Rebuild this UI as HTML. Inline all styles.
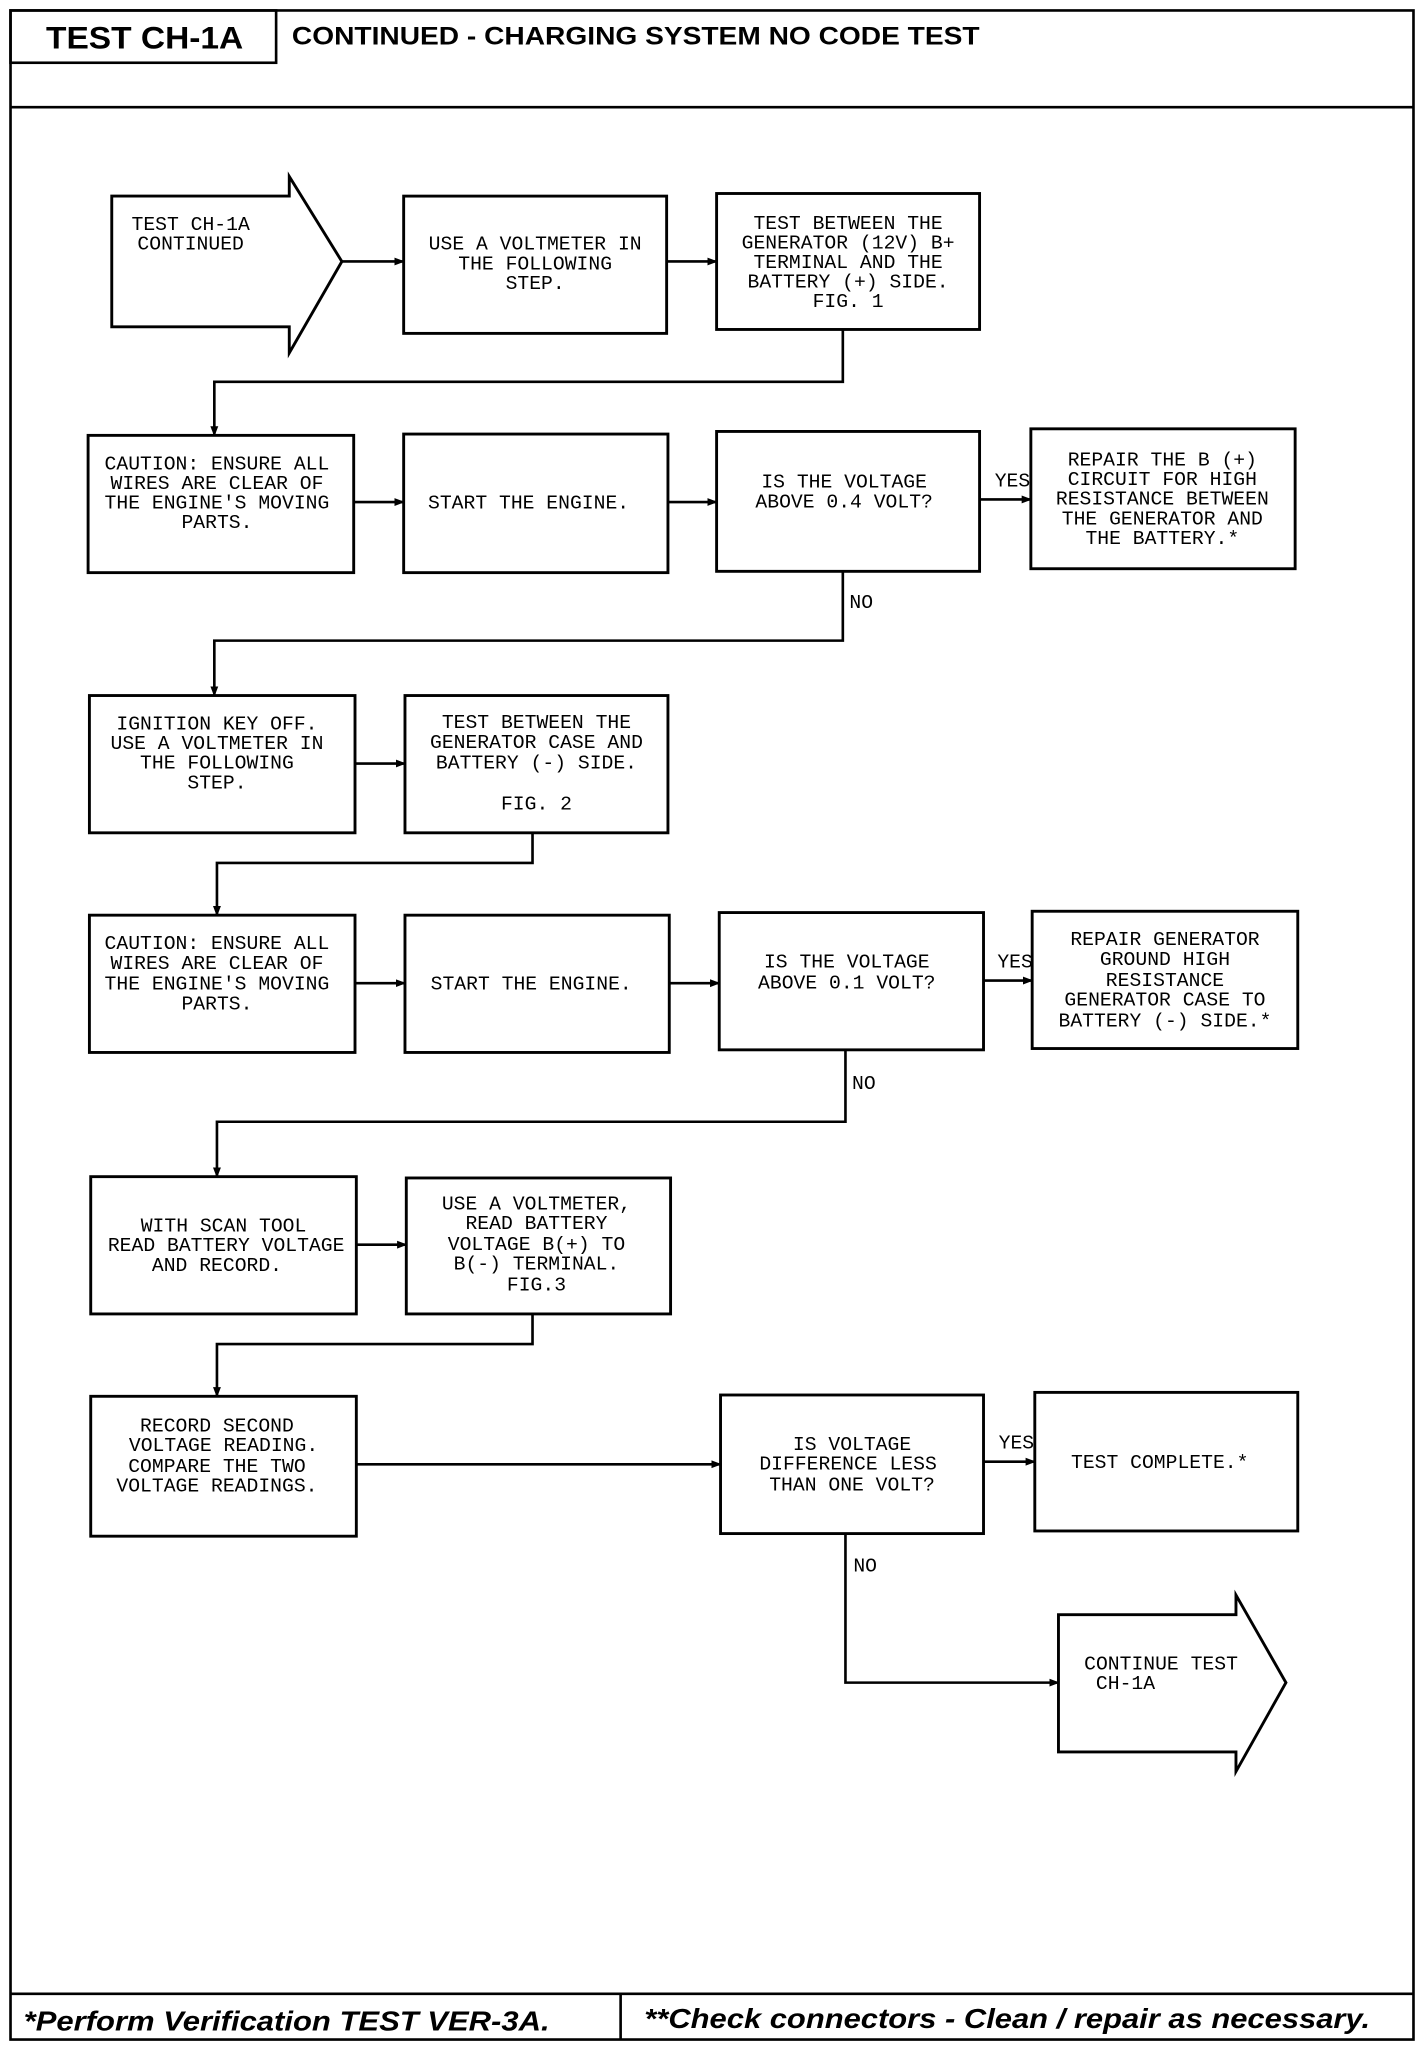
<!DOCTYPE html>
<html><head><meta charset="utf-8"><style>
html,body{margin:0;padding:0;background:#fff}
svg{display:block}
.t{font-family:"Liberation Mono",monospace;font-size:15px;fill:#000;text-anchor:middle}
.b{fill:#fff;stroke:#000;stroke-width:2.2}
.l{fill:none;stroke:#000;stroke-width:2}
</style></head><body>
<svg width="1424" height="2050" viewBox="0 0 1083 1568" preserveAspectRatio="none" xmlns="http://www.w3.org/2000/svg">
<defs><marker id="a" markerWidth="8" markerHeight="8" refX="7" refY="4" orient="auto" markerUnits="userSpaceOnUse"><path d="M0,1 L8,4 L0,7z" fill="#000"/></marker></defs>
<rect x="8" y="8" width="1067" height="1552" class="l" stroke-width="2.5"/>
<line x1="8" y1="82" x2="1075" y2="82" class="l" stroke-width="3"/>
<rect x="8" y="8" width="202" height="40" class="l" stroke-width="2.5"/>
<text x="35" y="37" textLength="150" lengthAdjust="spacingAndGlyphs" style="font-family:'Liberation Sans',sans-serif;font-weight:bold;font-size:24px">TEST CH-1A</text>
<text x="222" y="34" textLength="523" lengthAdjust="spacingAndGlyphs" style="font-family:'Liberation Sans',sans-serif;font-weight:bold;font-size:19px">CONTINUED - CHARGING SYSTEM NO CODE TEST</text>
<line x1="8" y1="1525" x2="1075" y2="1525" class="l" stroke-width="3"/>
<line x1="472" y1="1525" x2="472" y2="1560" class="l"/>
<text x="18" y="1553" textLength="400" lengthAdjust="spacingAndGlyphs" style="font-family:'Liberation Sans',sans-serif;font-weight:bold;font-style:italic;font-size:21px">*Perform Verification TEST VER-3A.</text>
<text x="490" y="1551" textLength="552" lengthAdjust="spacingAndGlyphs" style="font-family:'Liberation Sans',sans-serif;font-weight:bold;font-style:italic;font-size:21px">**Check connectors - Clean / repair as necessary.</text>

<!-- row1 -->
<path d="M85,150 H220 V135 L260,200 L220,270 V250 H85Z" class="b"/>
<text class="t" x="145" y="176">TEST CH-1A</text><text class="t" x="145" y="191">CONTINUED</text>
<rect x="307" y="150" width="200" height="105" class="b"/>
<text class="t" x="407" y="191">USE A VOLTMETER IN</text><text class="t" x="407" y="206">THE FOLLOWING</text><text class="t" x="407" y="221">STEP.</text>
<rect x="545" y="148" width="200" height="104" class="b"/>
<text class="t" x="645" y="175">TEST BETWEEN THE</text><text class="t" x="645" y="190">GENERATOR (12V) B+</text><text class="t" x="645" y="205">TERMINAL AND THE</text><text class="t" x="645" y="220">BATTERY (+) SIDE.</text><text class="t" x="645" y="235">FIG. 1</text>
<line x1="260" y1="200" x2="307" y2="200" class="l" marker-end="url(#a)"/>
<line x1="507" y1="200" x2="545" y2="200" class="l" stroke-width="3" marker-end="url(#a)"/>
<path d="M641,252 V292 H163 V333" class="l" marker-end="url(#a)"/>

<!-- row2 -->
<rect x="67" y="333" width="202" height="105" class="b"/>
<text class="t" x="165" y="359">CAUTION: ENSURE ALL</text><text class="t" x="165" y="374">WIRES ARE CLEAR OF</text><text class="t" x="165" y="389">THE ENGINE'S MOVING</text><text class="t" x="165" y="404">PARTS.</text>
<rect x="307" y="332" width="201" height="106" class="b"/>
<text class="t" x="402" y="389">START THE ENGINE.</text>
<rect x="545" y="330" width="200" height="107" class="b"/>
<text class="t" x="642" y="373">IS THE VOLTAGE</text><text class="t" x="642" y="388">ABOVE 0.4 VOLT?</text>
<rect x="784" y="328" width="201" height="107" class="b"/>
<text class="t" x="884" y="356">REPAIR THE B (+)</text><text class="t" x="884" y="371">CIRCUIT FOR HIGH</text><text class="t" x="884" y="386">RESISTANCE BETWEEN</text><text class="t" x="884" y="401">THE GENERATOR AND</text><text class="t" x="884" y="416">THE BATTERY.*</text>
<line x1="269" y1="384" x2="307" y2="384" class="l" marker-end="url(#a)"/>
<line x1="508" y1="384" x2="545" y2="384" class="l" marker-end="url(#a)"/>
<line x1="745" y1="382" x2="784" y2="382" class="l" marker-end="url(#a)"/>
<text class="t" x="770" y="372">YES</text>
<text class="t" x="655" y="465">NO</text>
<path d="M641,437 V490 H163 V532" class="l" marker-end="url(#a)"/>

<!-- row3 -->
<rect x="68" y="532" width="202" height="105" class="b"/>
<text class="t" x="165" y="558">IGNITION KEY OFF.</text><text class="t" x="165" y="573">USE A VOLTMETER IN</text><text class="t" x="165" y="588">THE FOLLOWING</text><text class="t" x="165" y="603">STEP.</text>
<rect x="308" y="532" width="200" height="105" class="b"/>
<text class="t" x="408" y="557">TEST BETWEEN THE</text><text class="t" x="408" y="572">GENERATOR CASE AND</text><text class="t" x="408" y="588">BATTERY (-) SIDE.</text><text class="t" x="408" y="619">FIG. 2</text>
<line x1="270" y1="584" x2="308" y2="584" class="l" marker-end="url(#a)"/>
<path d="M405,637 V660 H165 V700" class="l" marker-end="url(#a)"/>

<!-- row4 -->
<rect x="68" y="700" width="202" height="105" class="b"/>
<text class="t" x="165" y="726">CAUTION: ENSURE ALL</text><text class="t" x="165" y="741">WIRES ARE CLEAR OF</text><text class="t" x="165" y="757">THE ENGINE'S MOVING</text><text class="t" x="165" y="772">PARTS.</text>
<rect x="308" y="700" width="201" height="105" class="b"/>
<text class="t" x="404" y="757">START THE ENGINE.</text>
<rect x="547" y="698" width="201" height="105" class="b"/>
<text class="t" x="644" y="740">IS THE VOLTAGE</text><text class="t" x="644" y="756">ABOVE 0.1 VOLT?</text>
<rect x="785" y="697" width="202" height="105" class="b"/>
<text class="t" x="886" y="723">REPAIR GENERATOR</text><text class="t" x="886" y="738">GROUND HIGH</text><text class="t" x="886" y="754">RESISTANCE</text><text class="t" x="886" y="769">GENERATOR CASE TO</text><text class="t" x="886" y="785">BATTERY (-) SIDE.*</text>
<line x1="270" y1="752" x2="308" y2="752" class="l" marker-end="url(#a)"/>
<line x1="509" y1="752" x2="547" y2="752" class="l" marker-end="url(#a)"/>
<line x1="748" y1="750" x2="785" y2="750" class="l" marker-end="url(#a)"/>
<text class="t" x="772" y="740">YES</text>
<text class="t" x="657" y="833">NO</text>
<path d="M643,803 V858 H165 V900" class="l" marker-end="url(#a)"/>

<!-- row5 -->
<rect x="69" y="900" width="202" height="105" class="b"/>
<text class="t" x="170" y="942">WITH SCAN TOOL</text><text class="t" x="172" y="957">READ BATTERY VOLTAGE</text><text class="t" x="165" y="972">AND RECORD.</text>
<rect x="309" y="901" width="201" height="104" class="b"/>
<text class="t" x="408" y="925">USE A VOLTMETER,</text><text class="t" x="408" y="940">READ BATTERY</text><text class="t" x="408" y="956">VOLTAGE B(+) TO</text><text class="t" x="408" y="971">B(-) TERMINAL.</text><text class="t" x="408" y="987">FIG.3</text>
<line x1="271" y1="952" x2="309" y2="952" class="l" marker-end="url(#a)"/>
<path d="M405,1005 V1028 H165 V1068" class="l" marker-end="url(#a)"/>

<!-- row6 -->
<rect x="69" y="1068" width="202" height="107" class="b"/>
<text class="t" x="165" y="1095">RECORD SECOND</text><text class="t" x="170" y="1110">VOLTAGE READING.</text><text class="t" x="165" y="1126">COMPARE THE TWO</text><text class="t" x="165" y="1141">VOLTAGE READINGS.</text>
<rect x="548" y="1067" width="200" height="106" class="b"/>
<text class="t" x="648" y="1109">IS VOLTAGE</text><text class="t" x="645" y="1124">DIFFERENCE LESS</text><text class="t" x="648" y="1140">THAN ONE VOLT?</text>
<rect x="787" y="1065" width="200" height="106" class="b"/>
<text class="t" x="882" y="1123">TEST COMPLETE.*</text>
<line x1="271" y1="1120" x2="548" y2="1120" class="l" marker-end="url(#a)"/>
<line x1="748" y1="1118" x2="787" y2="1118" class="l" marker-end="url(#a)"/>
<text class="t" x="773" y="1108">YES</text>
<text class="t" x="658" y="1202">NO</text>
<path d="M643,1173 V1287 H805" class="l" marker-end="url(#a)"/>
<path d="M805,1235 H940 V1220 L978,1287 L940,1355 V1340 H805Z" class="b"/>
<text class="t" x="883" y="1277">CONTINUE TEST</text><text class="t" x="856" y="1292">CH-1A</text>
</svg>
</body></html>
